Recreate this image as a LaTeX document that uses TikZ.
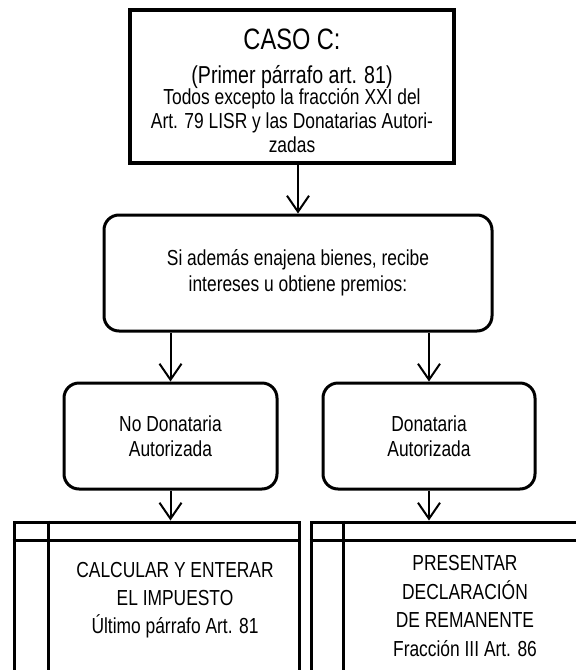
\documentclass[tikz,border=0pt]{standalone}
\usepackage{fontspec}
\setmainfont{Liberation Sans}[FakeStretch=0.8]
\usetikzlibrary{arrows.meta}

\begin{document}
\begin{tikzpicture}[x=1pt,y=-1pt,
  txt/.style={font=\fontsize{21.75}{24}\selectfont,align=center},
  casebox/.style={draw,line width=3.5pt,inner sep=0pt,minimum width=324pt,minimum height=153pt},
  roundbox/.style={draw,line width=3pt,rounded corners=15pt,inner sep=0pt},
  procbox/.style={draw,line width=3pt,inner sep=0pt,minimum height=198pt},
  arr/.style={-{Straight Barb[length=16pt,width=22pt]},line width=2pt}]
\clip (0,0) rectangle (576,670);

% Case box
\node[casebox,txt] (caso) at (292,86.5) {\rule{0pt}{30pt}{\fontsize{29.5}{29.5}\selectfont CASO C:}\\[10pt]%
  {\fontsize{24.5}{24}\selectfont (Primer párrafo art. 81)}\\[-3pt]%
  Todos excepto la fracción XXI del\\Art. 79 LISR y las Donatarias Autori-\\zadas};

% Condition
\node[roundbox,txt,font=\fontsize{21.75}{26}\selectfont,minimum width=388pt,minimum height=116pt] (cond) at (298,273)
  {Si además enajena bienes, recibe\\intereses u obtiene premios:};

% Two branches
\node[roundbox,txt,font=\fontsize{21.75}{25}\selectfont,minimum width=213pt,minimum height=106pt] (nodon) at (170.5,436)
  {No Donataria\\Autorizada};
\node[roundbox,txt,font=\fontsize{21.75}{25}\selectfont,minimum width=212pt,minimum height=106pt] (don) at (429,436)
  {Donataria\\Autorizada};

% Process boxes
\node[procbox,minimum width=285pt] (calc) at (156.5,621) {};
\node[procbox,minimum width=272pt] (decl) at (447,621) {};
\foreach \b/\d in {calc/36,decl/34} {
  \draw[line width=3pt] ([yshift=-20pt]\b.north west) -- ([yshift=-20pt]\b.north east);
  \draw[line width=3pt] ([xshift=\d pt]\b.north west) -- ([xshift=\d pt]\b.south west);
}
\node[txt,font=\fontsize{21.75}{28}\selectfont] (calctxt) at (175,600)
  {CALCULAR Y ENTERAR\\EL IMPUESTO\\Último párrafo Art. 81};
\node[txt,font=\fontsize{21.75}{28.5}\selectfont] (decltxt) at (465,606)
  {PRESENTAR\\DECLARACIÓN\\DE REMANENTE\\Fracción III Art. 86};

% Arrows
\draw[arr] (cond.north |- caso.south) -- (cond.north);
\draw[arr] (cond.south -| nodon.north) -- (nodon.north);
\draw[arr] (cond.south -| don.north) -- (don.north);
\draw[arr] (nodon.south) -- (nodon.south |- calc.north);
\draw[arr] (don.south) -- (don.south |- decl.north);
\end{tikzpicture}
\end{document}
